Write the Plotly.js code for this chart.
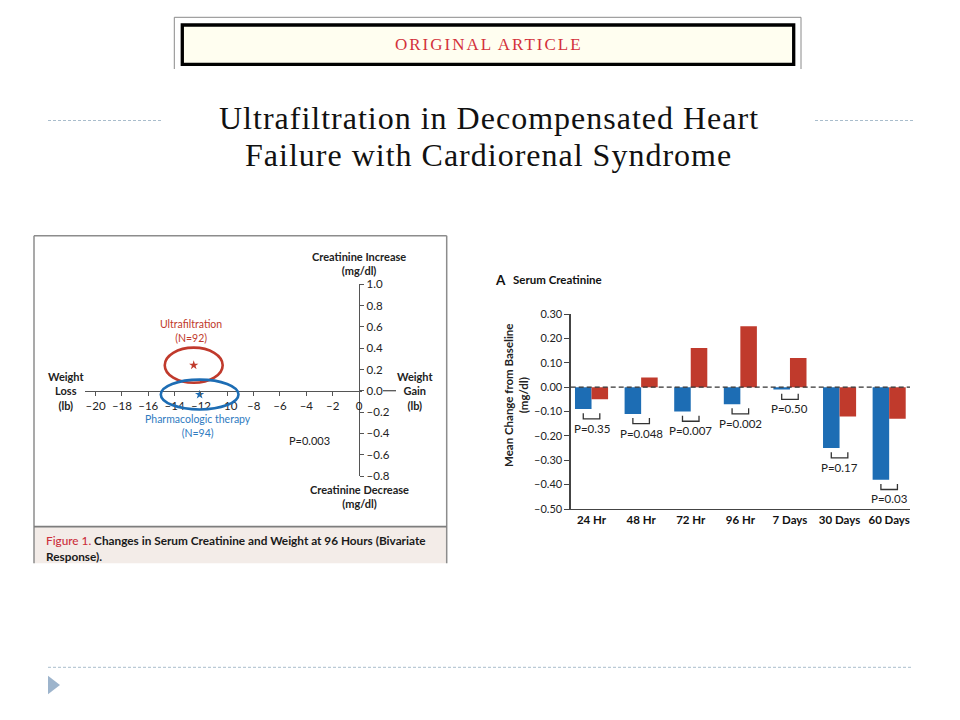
<!DOCTYPE html>
<html><head><meta charset="utf-8">
<script src="https://cdn.plot.ly/plotly-3.0.1.min.js"></script>
<style>html,body{margin:0;padding:0;background:#fff}#chart{width:960px;height:720px}</style>
</head><body><div id="chart"></div>
<script>
// ---- Data: bar chart (Serum Creatinine, mean change from baseline, mg/dl)
const categories = ['24 Hr', '48 Hr', '72 Hr', '96 Hr', '7 Days', '30 Days', '60 Days'];
const pharmacologicChange = [-0.09, -0.11, -0.10, -0.07, -0.01, -0.25, -0.38];
const ultrafiltrationChange = [-0.05, 0.04, 0.16, 0.25, 0.12, -0.12, -0.13];
const pValueLabels = ['P=0.35', 'P=0.048', 'P=0.007', 'P=0.002', 'P=0.50', 'P=0.17', 'P=0.03'];
const changeTicks = [-0.5, -0.4, -0.3, -0.2, -0.1, 0, 0.1, 0.2, 0.3];
const changeTickLabels = ['\u20130.50', '\u20130.40', '\u20130.30', '\u20130.20', '\u20130.10', '0.00', '0.10', '0.20', '0.30'];

// ---- Data: bivariate response at 96 hours
const groupNames = ['Ultrafiltration', 'Pharmacologic therapy'];
const groupN = [92, 94];
const meanWeightChange = [-12.55, -12.1];
const meanCreatChange = [0.24, -0.035];
const weightSpread = [2.2, 2.95];
const creatSpread = [0.165, 0.14];
const overallP = 'P=0.003';
const weightTicks = [-20, -18, -16, -14, -12, -10, -8, -6, -4, -2, 0];
const weightTickLabels = ['\u201320', '\u201318', '\u201316', '\u201314', '\u201312', '\u201310', '\u20138', '\u20136', '\u20134', '\u20132', '0'];
const creatTicks = [-0.8, -0.6, -0.4, -0.2, 0, 0.2, 0.4, 0.6, 0.8, 1.0];
const creatTickLabels = ['\u20130.8', '\u20130.6', '\u20130.4', '\u20130.2', '0.0', '0.2', '0.4', '0.6', '0.8', '1.0'];

// ---- Styling
const W = 960, H = 720;
const X = v => v / W, Y = v => 1 - v / H;
const FONT = 'Lato, "Open Sans", sans-serif';
const SERIF = '"Liberation Serif", "DejaVu Serif", serif';
const BLUE = '#1d6db4', RED = '#c03a2c', INK = '#222222';
const groupColors = [RED, BLUE];

const lbPx = 13.17; // pixels per lb on the scatter panel
const originX = 359;

const traces = [];
// bars
traces.push({type: 'bar', x: categories.map((c, i) => i), y: pharmacologicChange, xaxis: 'x2', yaxis: 'y2',
  marker: {color: BLUE}, name: groupNames[1], hoverinfo: 'y'});
traces.push({type: 'bar', x: categories.map((c, i) => i), y: ultrafiltrationChange, xaxis: 'x2', yaxis: 'y2',
  marker: {color: RED}, name: groupNames[0], hoverinfo: 'y'});
// mean points
groupNames.forEach((g, k) => {
  traces.push({type: 'scatter', mode: 'markers', x: [meanWeightChange[k]], y: [meanCreatChange[k]], xaxis: 'x', yaxis: 'y',
    marker: {symbol: 'star', size: 7, color: groupColors[k]}, name: g});
});

const shapes = [];
const annotations = [];
const ann = (o) => annotations.push(Object.assign({showarrow: false, xref: 'paper', yref: 'paper', xanchor: 'center', yanchor: 'middle'}, o));

// --- Slide decoration
shapes.push({type: 'line', xref: 'paper', yref: 'paper', x0: X(174.3), x1: X(174.3), y0: Y(17.3), y1: Y(69), line: {color: '#8a8a8a', width: 1}});
shapes.push({type: 'line', xref: 'paper', yref: 'paper', x0: X(801), x1: X(801), y0: Y(17.3), y1: Y(69), line: {color: '#8a8a8a', width: 1}});
shapes.push({type: 'line', xref: 'paper', yref: 'paper', x0: X(174.3), x1: X(801), y0: Y(17.3), y1: Y(17.3), line: {color: '#8a8a8a', width: 1}});
shapes.push({type: 'rect', xref: 'paper', yref: 'paper', x0: X(182.3), x1: X(793.7), y0: Y(64.3), y1: Y(25), fillcolor: '#fffef0', line: {color: '#000', width: 3.3}});
ann({x: X(489), y: Y(44.5), text: '<span style="letter-spacing:2px">ORIGINAL ARTICLE</span>', font: {family: SERIF, size: 17, color: '#d3313b'}});
ann({x: X(489), y: Y(118), text: '<span style="letter-spacing:1px">Ultrafiltration in Decompensated Heart</span>', font: {family: SERIF, size: 32, color: '#111'}});
ann({x: X(488), y: Y(155), text: '<span style="letter-spacing:1px">Failure with Cardiorenal Syndrome</span>', font: {family: SERIF, size: 32, color: '#111'}});
const deco = {color: '#a9bdcc', width: 1, dash: '3px,2px'};
shapes.push({type: 'line', xref: 'paper', yref: 'paper', x0: X(48), x1: X(163), y0: Y(120.5), y1: Y(120.5), line: deco});
shapes.push({type: 'line', xref: 'paper', yref: 'paper', x0: X(815), x1: X(913), y0: Y(120.5), y1: Y(120.5), line: deco});
shapes.push({type: 'line', xref: 'paper', yref: 'paper', x0: X(48), x1: X(913), y0: Y(667.3), y1: Y(667.3), line: deco});
shapes.push({type: 'path', xref: 'paper', yref: 'paper',
  path: `M ${X(48)},${Y(675.7)} L ${X(60)},${Y(685)} L ${X(48)},${Y(694.3)} Z`, fillcolor: '#9db4cc', line: {width: 0}});

// --- Left panel frame + caption
shapes.push({type: 'rect', xref: 'paper', yref: 'paper', x0: X(34), x1: X(446.7), y0: Y(563.3), y1: Y(526.7), fillcolor: '#f3ece8', line: {width: 0}, layer: 'below'});
const frame = {color: '#8c8c8c', width: 1.5};
shapes.push({type: 'line', xref: 'paper', yref: 'paper', x0: X(34), x1: X(34), y0: Y(235.7), y1: Y(563.3), line: frame});
shapes.push({type: 'line', xref: 'paper', yref: 'paper', x0: X(446.7), x1: X(446.7), y0: Y(235.7), y1: Y(563.3), line: frame});
shapes.push({type: 'line', xref: 'paper', yref: 'paper', x0: X(34), x1: X(446.7), y0: Y(235.7), y1: Y(235.7), line: frame});
shapes.push({type: 'line', xref: 'paper', yref: 'paper', x0: X(34), x1: X(446.7), y0: Y(526.7), y1: Y(526.7), line: {color: '#7d7d7d', width: 1.8}});
ann({x: X(43.5), y: Y(540.7), xanchor: 'left', font: {family: FONT, size: 11.8, color: '#1a1a1a', weight: 700},
  text: '<span style="color:#cc2f3c;font-weight:500">Figure 1.</span> Changes in Serum Creatinine and Weight at 96 Hours (Bivariate'});
ann({x: X(43.5), y: Y(556.7), xanchor: 'left', font: {family: FONT, size: 11.8, color: '#1a1a1a', weight: 700}, text: 'Response).'});

// --- Left panel axis extension right of the 0.0 label
shapes.push({type: 'line', xref: 'paper', yref: 'paper', x0: X(383), x1: X(396), y0: Y(390.7), y1: Y(390.7), line: {color: '#555', width: 1.3}});

// ellipses
groupNames.forEach((g, k) => {
  shapes.push({type: 'circle', xref: 'x', yref: 'y', layer: 'above',
    x0: meanWeightChange[k] - weightSpread[k], x1: meanWeightChange[k] + weightSpread[k],
    y0: meanCreatChange[k] - creatSpread[k], y1: meanCreatChange[k] + creatSpread[k],
    line: {color: groupColors[k], width: 2.6}, fillcolor: 'rgba(0,0,0,0)'});
});
const boldLbl = {family: FONT, size: 11, color: INK, weight: 700};
ann({x: X(originX), y: Y(263), text: 'Creatinine Increase<br>(mg/dl)', font: boldLbl});
ann({x: X(originX), y: Y(496.7), text: 'Creatinine Decrease<br>(mg/dl)', font: boldLbl});
ann({x: X(66), y: Y(390.5), text: 'Weight<br>Loss<br>(lb)', font: boldLbl});
ann({x: X(415), y: Y(390.5), text: 'Weight<br>Gain<br>(lb)', font: boldLbl});
ann({x: X(191), y: Y(331), text: `${groupNames[0]}<br>(N=${groupN[0]})`, font: {family: FONT, size: 10.5, color: '#c0392b'}});
ann({x: X(198), y: Y(426), text: `${groupNames[1]}<br>(N=${groupN[1]})`, font: {family: FONT, size: 10.5, color: '#2f7bbf'}});
ann({x: X(309), y: Y(440), text: overallP, font: {family: FONT, size: 11, color: INK}});

// --- Right panel
shapes.push({type: 'line', xref: 'x2 domain', yref: 'y2', x0: 0, x1: 1, y0: 0, y1: 0, line: {color: '#333', width: 1.3, dash: '5px,3px'}, layer: 'above'});
const half = 1 / 6;
categories.forEach((c, i) => {
  const yb = Math.min(pharmacologicChange[i], ultrafiltrationChange[i]) - 0.04;
  shapes.push({type: 'path', xref: 'x2', yref: 'y2',
    path: `M ${i - half},${yb + 0.023} L ${i - half},${yb} L ${i + half},${yb} L ${i + half},${yb + 0.023}`,
    line: {color: '#333', width: 1.3}});
  annotations.push({x: i, y: yb - 0.004, xref: 'x2', yref: 'y2', showarrow: false, xanchor: 'center', yanchor: 'top',
    text: pValueLabels[i], font: {family: FONT, size: 11.5, color: INK}});
});
ann({x: X(492.5), y: Y(279.5), xanchor: 'left', text: 'A', font: {family: FONT, size: 13.5, color: '#111', weight: 700}});
ann({x: X(510.5), y: Y(280), xanchor: 'left', text: 'Serum Creatinine', font: {family: FONT, size: 11.5, color: '#111', weight: 700}});
ann({x: X(516), y: Y(396), textangle: -90, text: 'Mean Change from Baseline<br>(mg/dl)', font: {family: FONT, size: 11.5, color: INK, weight: 700}});

const layout = {
  width: W, height: H, margin: {l: 0, r: 0, t: 0, b: 0},
  paper_bgcolor: '#fff', plot_bgcolor: 'rgba(0,0,0,0)',
  showlegend: false, barmode: 'group', bargap: 0.333, bargroupgap: 0,
  font: {family: FONT, color: INK},
  xaxis: {domain: [X(85), X(362)], range: [(85 - originX) / lbPx, (362 - originX) / lbPx], anchor: 'free', position: Y(390.7),
    showline: true, linecolor: '#555', linewidth: 1.3, ticks: 'outside', ticklen: 4, tickcolor: '#555', tickwidth: 1,
    tickvals: weightTicks, ticktext: weightTickLabels, tickfont: {family: FONT, size: 11.5, color: INK},
    showgrid: false, zeroline: false, fixedrange: true},
  yaxis: {domain: [Y(476), Y(284.3)], range: [-0.8, 1.0], anchor: 'free', position: X(originX), side: 'right',
    showline: true, linecolor: '#555', linewidth: 1.3, ticks: 'outside', ticklen: 4, tickcolor: '#555', tickwidth: 1,
    tickvals: creatTicks, ticktext: creatTickLabels, tickfont: {family: FONT, size: 11.5, color: INK},
    showgrid: false, zeroline: false, fixedrange: true},
  xaxis2: {domain: [X(570.7), X(910)], range: [-0.42, 6.42], anchor: 'y2',
    showline: true, linecolor: '#444', linewidth: 1.3, ticks: '', tickvals: categories.map((c, i) => i), ticktext: categories,
    tickfont: {family: FONT, size: 11.5, color: '#111', weight: 700}, showgrid: false, zeroline: false, fixedrange: true},
  yaxis2: {domain: [Y(509), Y(314)], range: [-0.5, 0.3], anchor: 'x2',
    showline: true, linecolor: '#444', linewidth: 1.3, ticks: 'outside', ticklen: 5, tickcolor: '#444', tickwidth: 1,
    tickvals: changeTicks, ticktext: changeTickLabels, tickfont: {family: FONT, size: 11, color: INK},
    showgrid: false, zeroline: false, fixedrange: true},
  shapes: shapes, annotations: annotations
};
Plotly.newPlot('chart', traces, layout, {displayModeBar: false, staticPlot: true});
</script></body></html>
